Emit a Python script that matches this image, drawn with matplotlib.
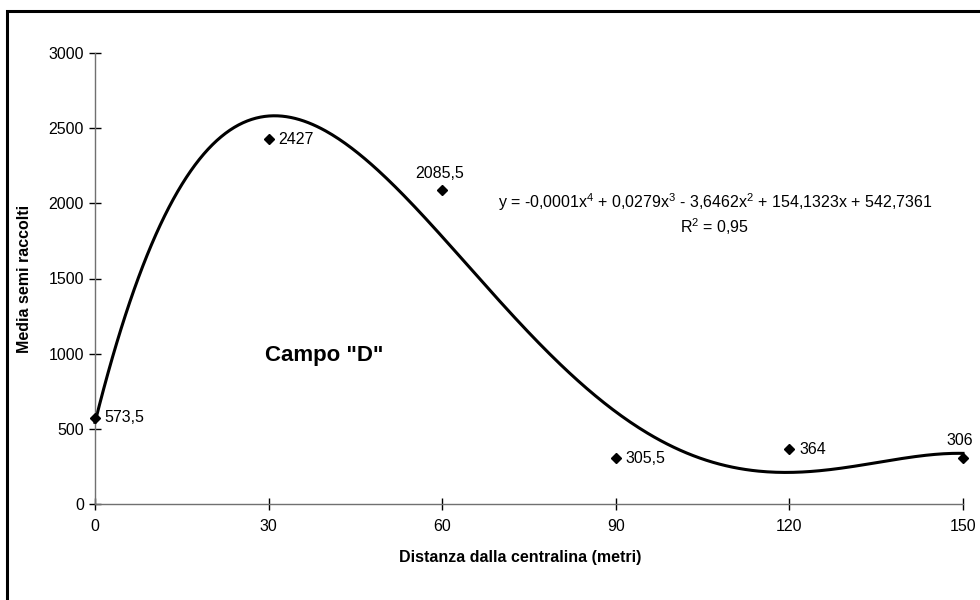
import numpy as np
import matplotlib
matplotlib.use('Agg')
import matplotlib.pyplot as plt
from matplotlib.patches import Rectangle

plt.rcParams['font.family'] = ['Liberation Sans', 'DejaVu Sans']
plt.rcParams['mathtext.fontset'] = 'custom'
plt.rcParams['mathtext.rm'] = 'Liberation Sans'
plt.rcParams['mathtext.it'] = 'Liberation Sans'

# dati
distanza = [0, 30, 60, 90, 120, 150]
semi = [573.5, 2427, 2085.5, 305.5, 364, 306]
etichette = ['573,5', '2427', '2085,5', '305,5', '364', '306']
# dove mettere l'etichetta: 'r' a destra, 'u' sopra
pos_etich = ['r', 'r', 'u', 'r', 'r', 'u']
xticks = [0, 30, 60, 90, 120, 150]
yticks = [0, 500, 1000, 1500, 2000, 2500, 3000]

equazione = ('y = -0,0001x$^4$ + 0,0279x$^3$ - 3,6462x$^2$ + 154,1323x + 542,7361\n'
             'R$^2$ = 0,95')

# linea di tendenza polinomiale di grado 4 (come excel)
coef = np.polyfit(distanza, semi, 4)
xx = np.linspace(0, 150, 400)
yy = np.polyval(coef, xx)

fig = plt.figure(figsize=(9.8, 6), dpi=100)
ax = fig.add_axes([95/980, 1-504/600, 868/980, 451/600])

ax.plot(xx, yy, color='black', lw=2.2, clip_on=False, zorder=2)
ax.plot(distanza, semi, 'D', color='black', ms=5.5, clip_on=False, zorder=3)

for x, y, t, p in zip(distanza, semi, etichette, pos_etich):
    if p == 'r':
        ax.annotate(t, (x, y), xytext=(7, 0), textcoords='offset points',
                    ha='left', va='center', fontsize=11.5)
    else:
        ax.annotate(t, (x, y), xytext=(-2, 7), textcoords='offset points',
                    ha='center', va='bottom', fontsize=11.5)

ax.set_xlim(0, 150)
ax.set_ylim(0, 3000)
ax.set_xticks(xticks)
ax.set_yticks(yticks)
for s in ['top', 'right']:
    ax.spines[s].set_visible(False)
for s in ['left', 'bottom']:
    ax.spines[s].set_color('#707070')
    ax.spines[s].set_linewidth(1)
ax.tick_params(direction='inout', length=8, width=1, color='black',
               labelsize=11.5, pad=4)
ax.tick_params(axis='x', pad=7)

ax.set_xlabel('Distanza dalla centralina (metri)', fontsize=11.5,
              fontweight='bold')
ax.set_ylabel('Media semi raccolti', fontsize=11.5, fontweight='bold')
ax.yaxis.set_label_coords(-0.073, 0.5)
ax.xaxis.set_label_coords(0.49, -0.102)

ax.text(715/980, 1-214/600, equazione, transform=fig.transFigure, ha='center',
        va='center', fontsize=11.5, linespacing=1.2)
ax.text(324/980, 1-355/600, 'Campo "D"', transform=fig.transFigure, ha='center',
        va='center', fontsize=16, fontweight='bold')

# cornice nera attorno al grafico
fig.patches.append(Rectangle((7/980, -0.05), 1.0, 1 - 10.5/600 + 0.05,
                             transform=fig.transFigure, fill=False,
                             edgecolor='black', lw=2.2))

fig.savefig('out.png', dpi=100)
